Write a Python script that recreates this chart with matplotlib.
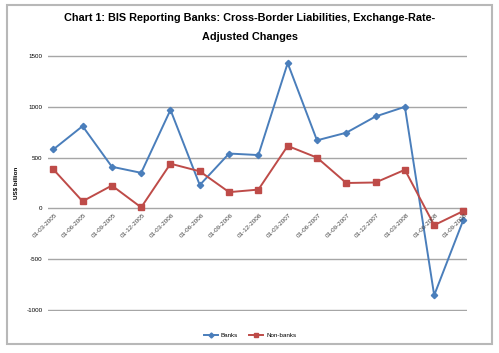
import matplotlib
matplotlib.use("Agg")
import matplotlib.pyplot as plt
from matplotlib.patches import Rectangle

dates = ["01-03-2005", "01-06-2005", "01-09-2005", "01-12-2005",
         "01-03-2006", "01-06-2006", "01-09-2006", "01-12-2006",
         "01-03-2007", "01-06-2007", "01-09-2007", "01-12-2007",
         "01-03-2008", "01-06-2008", "01-09-2008"]
banks = [580, 810, 410, 350, 970, 230, 540, 525, 1430, 670, 745, 905, 1000, -855, -110]
non_banks = [385, 70, 225, 10, 440, 365, 160, 185, 615, 500, 250, 255, 380, -165, -25]
yticks = [-1000, -500, 0, 500, 1000, 1500]

plt.rcParams['font.family'] = ['Liberation Sans', 'DejaVu Sans']

fig = plt.figure(figsize=(4.99, 3.53), dpi=100)
fig.patches.append(Rectangle((7 / 499, 1 - 344 / 353), 485 / 499, 339 / 353,
                             transform=fig.transFigure, fill=False,
                             edgecolor="#b8b8b8", linewidth=1.5))

ax = fig.add_axes([48 / 499, 1 - 311 / 353, 419 / 499, 256 / 353])
x = list(range(len(dates)))
ax.plot(x, banks, color="#4a7ebb", linewidth=1.4, marker="D", markersize=3.2, label="Banks")
ax.plot(x, non_banks, color="#be4b48", linewidth=1.4, marker="s", markersize=4, label="Non-banks")

ax.set_ylim(-1010, 1510)
ax.set_xlim(-0.18, 14.12)
ax.set_yticks(yticks)
ax.set_yticklabels([str(v) for v in yticks], fontsize=4.5)
ax.yaxis.grid(True, color="#a6a6a6", linewidth=1)
ax.set_axisbelow(True)
ax.tick_params(axis="y", length=0, pad=4)
ax.set_xticks([])
for s in ax.spines.values():
    s.set_visible(False)

for i, d in enumerate(dates):
    ax.text(i + 0.05, -40, d, rotation=45, ha="right", va="top", fontsize=4.5,
            color="#404040", rotation_mode="anchor")

ax.set_ylabel("US$ billion", fontsize=4.5, fontweight="bold", labelpad=6)

title_kw = dict(ha="center", va="center", fontsize=7.8, fontweight="bold")
fig.text(0.5, 1 - 18 / 353, "Chart 1: BIS Reporting Banks: Cross-Border Liabilities, Exchange-Rate-",
         **title_kw)
fig.text(0.5, 1 - 37 / 353, "Adjusted Changes", **title_kw)

fig.legend(loc="center", bbox_to_anchor=(250 / 499, 1 - 335 / 353), ncol=2, frameon=False,
           fontsize=4.5, handlelength=2.2, handletextpad=0.5, columnspacing=1.8,
           markerscale=0.8)

fig.savefig("out.png", dpi=100)
